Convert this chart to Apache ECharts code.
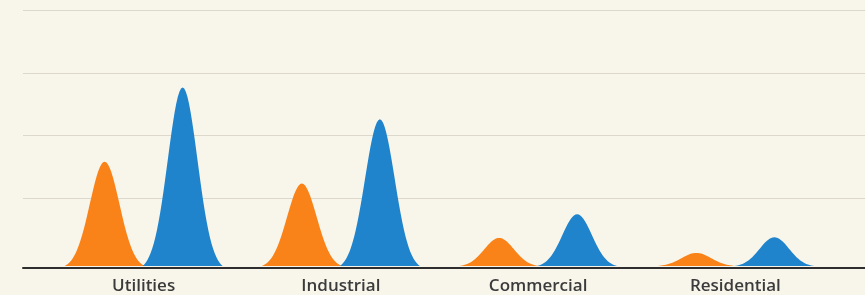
<!DOCTYPE html>
<html>
<head>
<meta charset="utf-8">
<script src="https://cdn.jsdelivr.net/npm/echarts@6/dist/echarts.min.js"></script>
<style>
  html, body { margin: 0; padding: 0; background: #f8f5eb; }
  #chart { width: 865px; height: 295px; }
</style>
</head>
<body>
<div id="chart"></div>
<script>
// values, in tenths of a gridline step
const categories = ['Utilities', 'Industrial', 'Commercial', 'Residential'];
const orangeValues = [16.7, 13.2, 4.5, 2.1];
const blueValues = [28.6, 23.5, 8.3, 4.6];

// bell-curve symbol, built once in a 100x100 box
function bellPath() {
  const sigma = 18.5;
  const edge = Math.exp(-2500 / (2 * sigma * sigma));
  let d = 'path://M0,100';
  for (let x = 0; x <= 100; x += 2) {
    const dx = x - 50;
    const g = (Math.exp(-(dx * dx) / (2 * sigma * sigma)) - edge) / (1 - edge);
    d += ' L' + x + ',' + (100 - g * 100).toFixed(2);
  }
  return d + ' Z';
}
const bell = bellPath();

const chart = echarts.init(document.getElementById('chart'), null, { renderer: 'canvas' });

const hiddenAxis = {
  axisLine: { show: false },
  axisTick: { show: false },
  axisLabel: { show: false },
  splitLine: { show: false }
};

chart.setOption({
  backgroundColor: '#f8f5eb',
  animation: false,
  grid: [
    { left: 23, right: 0, top: 10, bottom: 34 },  // gridlines
    { left: 45, right: 31, top: 10, bottom: 27 }, // bells
    { left: 23, right: 0, top: 10, bottom: 27 }   // baseline
  ],
  xAxis: [
    Object.assign({ gridIndex: 0, type: 'value', min: 0, max: 1 }, hiddenAxis),
    {
      gridIndex: 1,
      type: 'category',
      data: categories,
      axisLine: { show: false },
      axisTick: { show: false },
      axisLabel: {
        margin: 12,
        color: '#3b3b3b',
        fontFamily: 'Open Sans',
        fontWeight: 600,
        fontSize: 17
      }
    },
    Object.assign({ gridIndex: 2, type: 'value', min: 0, max: 1 }, hiddenAxis, {
      axisLine: { show: true, lineStyle: { color: '#2e2e2e', width: 2 } }
    })
  ],
  yAxis: [
    {
      gridIndex: 0,
      type: 'value',
      min: 0,
      max: 4,
      interval: 1,
      axisLine: { show: false },
      axisTick: { show: false },
      axisLabel: { show: false },
      splitLine: {
        show: true,
        showMinLine: false,
        lineStyle: { color: '#dcd8cc', width: 1 }
      }
    },
    { gridIndex: 1, type: 'value', min: 0, max: 41, show: false, splitLine: { show: false } },
    Object.assign({ gridIndex: 2, type: 'value', min: 0, max: 1, show: false }, hiddenAxis)
  ],
  series: [
    {
      name: 'Orange',
      type: 'pictorialBar',
      xAxisIndex: 1,
      yAxisIndex: 1,
      symbol: bell,
      symbolSize: [80, '100%'],
      barWidth: 78,
      barGap: '0%',
      itemStyle: { color: '#f98318' },
      data: orangeValues
    },
    {
      name: 'Blue',
      type: 'pictorialBar',
      xAxisIndex: 1,
      yAxisIndex: 1,
      symbol: bell,
      symbolSize: [80, '100%'],
      barWidth: 78,
      barGap: '0%',
      itemStyle: { color: '#1f84cc' },
      data: blueValues
    }
  ]
});
</script>
</body>
</html>
